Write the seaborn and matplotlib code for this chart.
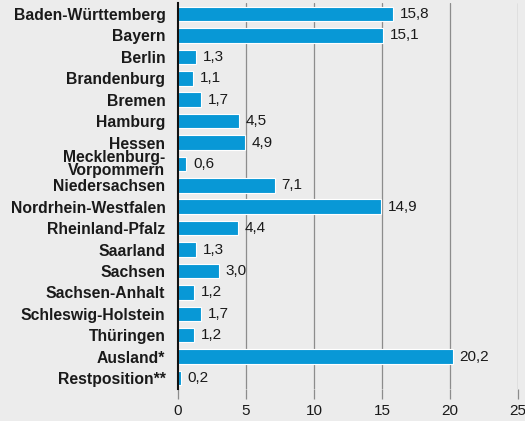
import pandas as pd
import seaborn as sns
import matplotlib.pyplot as plt

# Data
laender = ['Baden-Württemberg', 'Bayern', 'Berlin', 'Brandenburg', 'Bremen',
           'Hamburg', 'Hessen', 'Mecklenburg-\nVorpommern', 'Niedersachsen',
           'Nordrhein-Westfalen', 'Rheinland-Pfalz', 'Saarland', 'Sachsen',
           'Sachsen-Anhalt', 'Schleswig-Holstein', 'Thüringen', 'Ausland*',
           'Restposition**']
anteil = [15.8, 15.1, 1.3, 1.1, 1.7, 4.5, 4.9, 0.6, 7.1, 14.9, 4.4, 1.3,
          3.0, 1.2, 1.7, 1.2, 20.2, 0.2]
x_ticks = [0, 5, 10, 15, 20, 25]

df = pd.DataFrame({'land': laender, 'anteil': anteil})

sns.set_style('white')
plt.rcParams['font.family'] = ['Liberation Sans', 'DejaVu Sans']

bg = '#ececec'
fig = plt.figure(figsize=(5.25, 4.21), dpi=100, facecolor=bg)
ax = fig.add_axes([0.339, 0.0767, 0.648, 0.9153])
ax.set_facecolor(bg)

# vertical grid lines
for t in x_ticks[1:]:
    ax.axvline(t, color='#8c8c8c', lw=0.9, zorder=0)

sns.barplot(data=df, x='anteil', y='land', orient='h', color='#0898d6',
            saturation=1, width=0.68, edgecolor='white', linewidth=0.8,
            ax=ax, zorder=2)

for i, v in enumerate(anteil):
    ax.text(v + 0.5, i, f'{v:.1f}'.replace('.', ','), va='center',
            ha='left', fontsize=11, color='#1a1a1a')

ax.set_xlim(0, 25)
ax.set_ylim(17.5, -0.5)
ax.set_xticks(x_ticks)
ax.set_xticklabels([str(t) for t in x_ticks], fontsize=11, color='#1a1a1a')
ax.tick_params(axis='x', direction='out', length=7, width=0.9,
               color='#8c8c8c', pad=4, bottom=True)
ax.tick_params(axis='y', length=0, pad=9)
ax.set_yticks(range(len(laender)))
ax.set_yticklabels(laender, fontsize=11.3, fontweight='bold', color='#1a1a1a',
                   linespacing=0.8)
ax.set_xlabel('')
ax.set_ylabel('')

for s in ['top', 'right', 'bottom']:
    ax.spines[s].set_visible(False)
ax.spines['left'].set_color('#111111')
ax.spines['left'].set_linewidth(1.5)

fig.savefig('out.png', dpi=100, facecolor=bg)
